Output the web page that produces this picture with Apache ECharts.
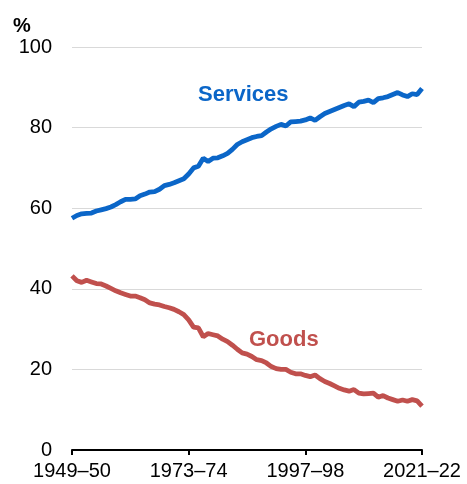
<!DOCTYPE html>
<html>
<head>
<meta charset="utf-8">
<script src="https://cdn.jsdelivr.net/npm/echarts@6/dist/echarts.min.js"></script>
<style>
html,body{margin:0;padding:0;background:#fff;}
#chart{width:467px;height:484px;}
</style>
</head>
<body>
<div id="chart"></div>
<script>
// Financial years 1949–50 to 2021–22
var startYear = 1949, endYear = 2021;
var categories = [];
for (var y = startYear; y <= endYear; y++) {
  var nx = String((y + 1) % 100);
  if (nx.length < 2) nx = '0' + nx;
  categories.push(y + '\u2013' + nx);
}

var services = [57.5,58.2,58.6,58.7,58.8,59.3,59.6,59.9,60.3,60.9,
  61.6,62.2,62.2,62.3,63.1,63.5,64.0,64.1,64.7,65.6,
  65.9,66.3,66.8,67.3,68.5,70.0,70.4,72.4,71.6,72.4,
  72.5,73.0,73.6,74.6,75.8,76.5,77.0,77.5,77.8,78.0,
  78.9,79.7,80.3,80.8,80.4,81.4,81.5,81.6,81.9,82.4,
  81.8,82.7,83.5,84.0,84.5,85.0,85.5,85.9,85.2,86.3,
  86.5,86.8,86.2,87.2,87.4,87.7,88.2,88.7,88.1,87.7,
  88.4,88.2,89.7];

var goods = [43.2,42.0,41.6,42.1,41.7,41.3,41.2,40.7,40.1,39.5,
  39.0,38.6,38.2,38.2,37.8,37.3,36.5,36.2,36.0,35.6,
  35.3,34.9,34.3,33.6,32.3,30.5,30.3,28.1,28.9,28.6,
  28.3,27.5,26.9,26.0,25.0,24.1,23.8,23.2,22.4,22.2,
  21.6,20.7,20.2,20.0,20.0,19.3,18.9,18.9,18.5,18.2,
  18.6,17.7,17.0,16.5,15.9,15.3,14.9,14.6,15.0,14.1,
  13.9,14.0,14.1,13.1,13.5,12.9,12.5,12.1,12.4,12.1,
  12.5,12.2,10.9];

var yTicks = [0, 20, 40, 60, 80, 100];

var FONT = "'Liberation Sans', Arial, sans-serif";
var BLUE = '#0b66c8';
var RED = '#c0504d';

var chart = echarts.init(document.getElementById('chart'), null, {renderer: 'canvas'});
chart.setOption({
  animation: false,
  backgroundColor: '#fff',
  grid: {left: 72, right: 45, top: 47, bottom: 34, containLabel: false},
  xAxis: {
    type: 'category',
    data: categories,
    boundaryGap: false,
    axisLine: {show: true, lineStyle: {color: '#000', width: 2}},
    axisTick: {show: true, interval: 23, length: 5, lineStyle: {color: '#000', width: 2}},
    axisLabel: {interval: 23, color: '#000', fontFamily: FONT, fontSize: 20, margin: 11,
      showMinLabel: true, showMaxLabel: true},
    splitLine: {show: false}
  },
  yAxis: {
    type: 'value',
    min: yTicks[0], max: yTicks[yTicks.length - 1], interval: 20,
    axisLine: {show: false},
    axisTick: {show: false},
    axisLabel: {color: '#000', fontFamily: FONT, fontSize: 20, margin: 20},
    splitLine: {show: true, lineStyle: {color: '#d9d9d9', width: 1}}
  },
  graphic: [
    {type: 'text', left: 13, top: 16, style: {text: '%', font: 'bold 20px ' + FONT, fill: '#000'}},
    {type: 'text', left: 198, top: 84, style: {text: 'Services', font: 'bold 22px ' + FONT, fill: BLUE}},
    {type: 'text', left: 249, top: 329, style: {text: 'Goods', font: 'bold 22px ' + FONT, fill: RED}}
  ],
  series: [
    {name: 'Services', type: 'line', data: services, showSymbol: false, symbol: 'none',
      lineStyle: {color: BLUE, width: 4.8}, z: 3},
    {name: 'Goods', type: 'line', data: goods, showSymbol: false, symbol: 'none',
      lineStyle: {color: RED, width: 4.8}, z: 3}
  ]
});
</script>
</body>
</html>
